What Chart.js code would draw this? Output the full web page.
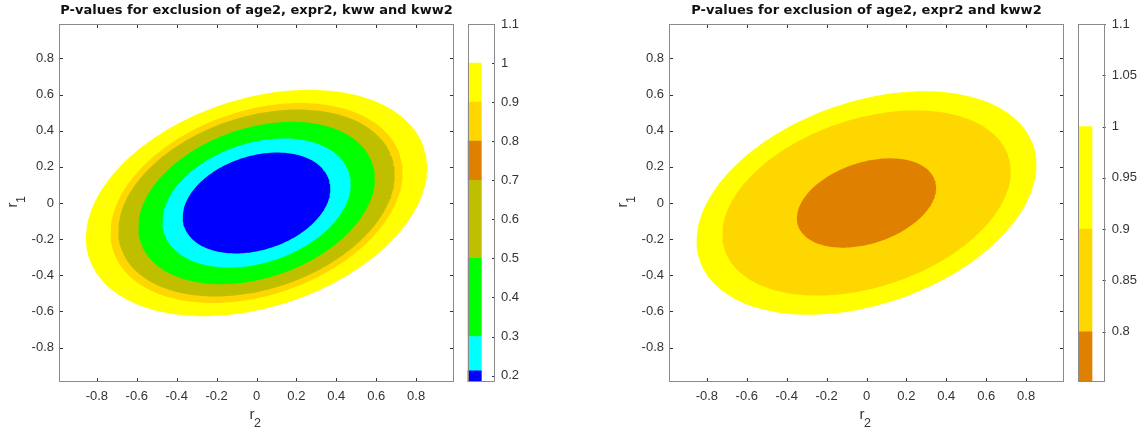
<!DOCTYPE html>
<html><head><meta charset="utf-8">
<script src="https://cdn.jsdelivr.net/npm/chart.js@4.4.1/dist/chart.umd.min.js"></script>
<style>
html,body{margin:0;padding:0;background:#fff;}
#wrap{position:relative;width:1140px;height:432px;overflow:hidden;background:#fff;}
canvas{position:absolute;top:0;}
</style></head><body>
<div id="wrap">
<canvas id="m1" width="462" height="432" style="left:0px"></canvas>
<canvas id="c1" width="110" height="432" style="left:460px"></canvas>
<canvas id="m2" width="462" height="432" style="left:610px"></canvas>
<canvas id="c2" width="70" height="432" style="left:1070px"></canvas>
</div>
<script>
// ---------- data ----------
const axisMin = -0.99, axisMax = 0.99;
const axisTicks = [-0.8,-0.6,-0.4,-0.2,0,0.2,0.4,0.6,0.8];
const axisTickLabels = ['-0.8','-0.6','-0.4','-0.2','0','0.2','0.4','0.6','0.8'];

const leftTitle = 'P-values for exclusion of age2, expr2, kww and kww2';
const rightTitle = 'P-values for exclusion of age2, expr2 and kww2';
const xLabel = ['r', '2'];   // r with subscript 2
const yLabel = ['r', '1'];   // r with subscript 1

// Left panel: outer boundary of each filled band (inner -> outer)
const leftColors      = ['#0000FF','#00FFFF','#00FF00','#BFBF00','#FFD700','#FFFF00'];
const leftHalfWidth   = [0.370, 0.472, 0.593, 0.693, 0.732, 0.855];   // extent along r2
const leftHalfHeight  = [0.279, 0.357, 0.449, 0.517, 0.553, 0.626];   // extent along r1
const leftTilt        = [0.28, 0.29, 0.30, 0.30, 0.30, 0.31];         // tilt (correlation-like)

// Right panel
const rightColors     = ['#E08000','#FFD700','#FFFF00'];
const rightHalfWidth  = [0.349, 0.723, 0.852];
const rightHalfHeight = [0.247, 0.512, 0.618];
const rightTilt       = [0.34, 0.34, 0.34];

// Colorbars
const leftCbEdges   = [0.1836, 0.212, 0.3, 0.5, 0.7, 0.8, 0.9, 1.0, 1.1];
const leftCbColors  = ['#0000FF','#00FFFF','#00FF00','#BFBF00','#E08000','#FFD700','#FFFF00','#FFFFFF'];
const leftCbTicks   = [0.2,0.3,0.4,0.5,0.6,0.7,0.8,0.9,1.0,1.1];
const leftCbLabels  = ['0.2','0.3','0.4','0.5','0.6','0.7','0.8','0.9','1','1.1'];

const rightCbEdges  = [0.751, 0.8, 0.9, 1.0, 1.1];
const rightCbColors = ['#E08000','#FFD700','#FFFF00','#FFFFFF'];
const rightCbTicks  = [0.8,0.85,0.9,0.95,1.0,1.05,1.1];
const rightCbLabels = ['0.8','0.85','0.9','0.95','1','1.05','1.1'];

// ---------- drawing ----------
const SANS = '"Liberation Sans", Arial, Helvetica, sans-serif';
Chart.defaults.font.family = SANS;
Chart.defaults.color = '#333333';

function contour(a, b, rho) {
  const phi = Math.acos(rho);
  const pts = [];
  const n = 240;
  for (let i = 0; i <= n; i++) {
    const t = 2 * Math.PI * i / n;
    pts.push({x: a * Math.cos(t), y: b * Math.cos(t - phi)});
  }
  return pts;
}

const framePlugin = {
  id: 'frame',
  afterDatasetsDraw(chart, args, o) {
    const {ctx, chartArea: {left, right, top, bottom}, scales} = chart;
    const L = o.len || 4;
    ctx.save();
    ctx.lineWidth = 1;
    ctx.strokeStyle = '#333333';
    ctx.beginPath();
    if (o.xTicks) for (const v of o.xTicks) {
      const p = Math.round(scales.x.getPixelForValue(v)) + 0.5;
      ctx.moveTo(p, bottom); ctx.lineTo(p, bottom - L);
      ctx.moveTo(p, top); ctx.lineTo(p, top + L);
    }
    if (o.yTicks) for (const v of o.yTicks) {
      const p = Math.round(scales.y.getPixelForValue(v)) + 0.5;
      if (o.yLeft) { ctx.moveTo(left, p); ctx.lineTo(left + L, p); }
      ctx.moveTo(right, p); ctx.lineTo(right - L, p);
    }
    ctx.stroke();
    ctx.strokeStyle = '#8a8a8a';
    ctx.strokeRect(Math.round(left) + 0.5, Math.round(top) + 0.5,
                   Math.round(right - left) - 1, Math.round(bottom - top) - 1);
    ctx.restore();
  }
};

// axis labels "r" with a TeX-like subscript
const labelPlugin = {
  id: 'rlabels',
  afterDraw(chart, args, o) {
    const {ctx, chartArea: {left, right, top, bottom}} = chart;
    const big = '15px ' + SANS, small = '12.5px ' + SANS;
    function draw(parts) {
      ctx.font = big; const w1 = ctx.measureText(parts[0]).width;
      ctx.font = small; const w2 = ctx.measureText(parts[1]).width;
      const x0 = -(w1 + w2) / 2;
      ctx.font = big; ctx.fillText(parts[0], x0, 0);
      ctx.font = small; ctx.fillText(parts[1], x0 + w1 - 0.5, 8);
    }
    ctx.save();
    ctx.fillStyle = '#333333';
    ctx.textBaseline = 'alphabetic';
    ctx.textAlign = 'left';
    // x label
    ctx.save();
    ctx.translate((left + right) / 2 - 1, 418.5);
    draw(o.x);
    ctx.restore();
    // y label (rotated)
    ctx.save();
    ctx.translate(16.7, (top + bottom) / 2 - 1.5);
    ctx.rotate(-Math.PI / 2);
    draw(o.y);
    ctx.restore();
    ctx.restore();
  }
};

function mainChart(id, title, colors, hw, hh, tilt) {
  const datasets = colors.map((c, i) => ({
    data: contour(hw[i], hh[i], tilt[i]),
    backgroundColor: c, borderWidth: 0, borderColor: c,
    pointRadius: 0, fill: 'shape', tension: 0
  }));
  return new Chart(document.getElementById(id), {
    type: 'line',
    data: {datasets},
    plugins: [framePlugin, labelPlugin],
    options: {
      responsive: false, animation: false, events: [],
      layout: {padding: {left: 0, right: 8, top: 0, bottom: 0}},
      plugins: {
        legend: {display: false}, tooltip: {enabled: false},
        title: {display: true, text: title, fullSize: false, color: '#111',
                font: {size: 13, weight: 'bold', family: '"DejaVu Sans", Verdana, sans-serif'},
                padding: {top: 3, bottom: 5.4}},
        frame: {xTicks: axisTicks, yTicks: axisTicks, yLeft: true, len: 4},
        rlabels: {x: xLabel, y: yLabel}
      },
      scales: {
        x: {type: 'linear', min: axisMin, max: axisMax,
            afterBuildTicks: s => { s.ticks = axisTicks.map(v => ({value: v})); },
            afterFit: s => { s.height = 50; },
            grid: {display: false, drawTicks: false}, border: {display: false},
            ticks: {padding: 7, font: {size: 13}, color: '#333', autoSkip: false, maxRotation: 0,
                    callback: (v, i) => axisTickLabels[i]}},
        y: {type: 'linear', min: axisMin, max: axisMax,
            afterBuildTicks: s => { s.ticks = axisTicks.map(v => ({value: v})); },
            afterFit: s => { s.width = 59; },
            grid: {display: false, drawTicks: false}, border: {display: false},
            ticks: {padding: 5, font: {size: 13}, color: '#333', autoSkip: false,
                    callback: (v, i) => axisTickLabels[i]}}
      }
    }
  });
}

function colorbar(id, edges, colors, ticks, labels, padLeft, axisW) {
  const datasets = colors.map((c, i) => ({
    data: [[edges[i], edges[i + 1]]], backgroundColor: c, borderWidth: 0,
    barPercentage: 1, categoryPercentage: 1, grouped: false
  }));
  return new Chart(document.getElementById(id), {
    type: 'bar',
    data: {labels: [''], datasets},
    plugins: [framePlugin],
    options: {
      responsive: false, animation: false, events: [],
      layout: {padding: {left: padLeft, right: 0, top: 24, bottom: 50}},
      plugins: {legend: {display: false}, tooltip: {enabled: false},
                frame: {yTicks: ticks, yLeft: false, len: 3}},
      scales: {
        x: {display: false, offset: false},
        y: {position: 'right', min: edges[0], max: edges[edges.length - 1],
            afterBuildTicks: s => { s.ticks = ticks.map(v => ({value: v})); },
            afterFit: s => { s.width = axisW; },
            grid: {display: false, drawTicks: false}, border: {display: false},
            ticks: {padding: 6, font: {size: 13}, color: '#333', autoSkip: false,
                    callback: (v, i) => labels[i]}}
      }
    }
  });
}

mainChart('m1', leftTitle, leftColors, leftHalfWidth, leftHalfHeight, leftTilt);
mainChart('m2', rightTitle, rightColors, rightHalfWidth, rightHalfHeight, rightTilt);
colorbar('c1', leftCbEdges, leftCbColors, leftCbTicks, leftCbLabels, 7.7, 75);
colorbar('c2', rightCbEdges, rightCbColors, rightCbTicks, rightCbLabels, 8.3, 34.3);
</script>
</body></html>
